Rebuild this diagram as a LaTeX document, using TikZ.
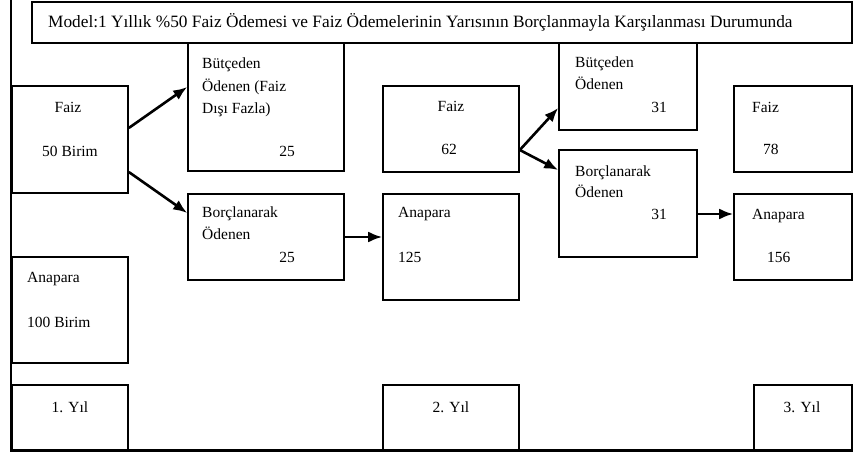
\documentclass[tikz,border=0pt]{standalone}
\usepackage{fontspec}
\setmainfont{Liberation Serif}
\usetikzlibrary{arrows.meta}
\tikzset{
    % kutular ve yazilar
    kutu/.style={draw,line width=1.6pt,inner sep=0pt},
    yazi/.style={inner sep=0pt,font=\fontsize{15.5}{18}\selectfont},
    baslik/.style={inner sep=0pt,font=\fontsize{17.3}{18}\selectfont},
    ok/.style={line width=2.6pt,-{Latex[length=14pt,width=11pt]}},
}
\begin{document}
\begin{tikzpicture}[x=1pt,y=-1pt]
    \useasboundingbox (0,0) rectangle (866,454);
    % cerceve
    \draw[line width=1.6pt] (11,0) -- (11,450);
    \draw[line width=3pt] (10,450) -- (853,450);
    \node[kutu,minimum width=820pt,minimum height=41pt] (baslik) at (442,22.5) {};
    % 1. yil
    \node[kutu,minimum width=116pt,minimum height=107pt] (faizA) at (70,139.5) {};
    \node[kutu,minimum width=156pt,minimum height=128pt] (butceA) at (266,107) {};
    \node[kutu,minimum width=156pt,minimum height=86pt] (borcA) at (266,237) {};
    \node[kutu,minimum width=116pt,minimum height=106pt] (anaA) at (70,310) {};
    \node[kutu,minimum width=116pt,minimum height=65pt] (yilA) at (70,417.5) {};
    % 2. yil
    \node[kutu,minimum width=136pt,minimum height=86pt] (faizB) at (451,129) {};
    \node[kutu,minimum width=136pt,minimum height=106pt] (anaB) at (451,247) {};
    \node[kutu,minimum width=136pt,minimum height=65pt] (yilB) at (451,417.5) {};
    \node[kutu,minimum width=138pt,minimum height=87pt] (butceB) at (628,86.5) {};
    \node[kutu,minimum width=138pt,minimum height=107pt] (borcB) at (628,203.5) {};
    % 3. yil
    \node[kutu,minimum width=118pt,minimum height=86pt] (faizC) at (793,129) {};
    \node[kutu,minimum width=118pt,minimum height=86pt] (anaC) at (793,237) {};
    \node[kutu,minimum width=98pt,minimum height=65pt] (yilC) at (803,417.5) {};
    % yazilar
    \node[baslik,anchor=base west] (tBaslik) at (48,28) {Model:1 Yıllık \%50 Faiz Ödemesi ve Faiz Ödemelerinin Yarısının Borçlanmayla Karşılanması Durumunda};
    \node[yazi,anchor=base] (tFaizA) at (68,113) {Faiz};
    \node[yazi,anchor=base] (tFaizA2) at (70,157) {50 Birim};
    \node[yazi,anchor=base west] (tButceA) at (202,69) {Bütçeden};
    \node[yazi,anchor=base west] (tButceA2) at (202,92) {Ödenen (Faiz};
    \node[yazi,anchor=base west] (tButceA3) at (202,114) {Dışı Fazla)};
    \node[yazi,anchor=base east] (tButceA4) at (295,157) {25};
    \node[yazi,anchor=base west] (tBorcA) at (202,218) {Borçlanarak};
    \node[yazi,anchor=base west] (tBorcA2) at (202,239) {Ödenen};
    \node[yazi,anchor=base east] (tBorcA3) at (295,262) {25};
    \node[yazi,anchor=base west] (tAnaA) at (27,282) {Anapara};
    \node[yazi,anchor=base west] (tAnaA2) at (27,327) {100 Birim};
    \node[yazi,anchor=base] (tYilA) at (70,412) {1. Yıl};
    \node[yazi,anchor=base] (tFaizB) at (451,112) {Faiz};
    \node[yazi,anchor=base] (tFaizB2) at (449,155) {62};
    \node[yazi,anchor=base west] (tAnaB) at (398,218) {Anapara};
    \node[yazi,anchor=base west] (tAnaB2) at (398,262) {125};
    \node[yazi,anchor=base] (tYilB) at (451,412) {2. Yıl};
    \node[yazi,anchor=base west] (tButceB) at (575,68) {Bütçeden};
    \node[yazi,anchor=base west] (tButceB2) at (575,90) {Ödenen};
    \node[yazi,anchor=base east] (tButceB3) at (667,113) {31};
    \node[yazi,anchor=base west] (tBorcB) at (575,177) {Borçlanarak};
    \node[yazi,anchor=base west] (tBorcB2) at (575,198) {Ödenen};
    \node[yazi,anchor=base east] (tBorcB3) at (667,219) {31};
    \node[yazi,anchor=base west] (tFaizC) at (752,113) {Faiz};
    \node[yazi,anchor=base west] (tFaizC2) at (763,155) {78};
    \node[yazi,anchor=base west] (tAnaC) at (752,219) {Anapara};
    \node[yazi,anchor=base west] (tAnaC2) at (767,262) {156};
    \node[yazi,anchor=base] (tYilC) at (802,412) {3. Yıl};
    % oklar
    \draw[ok] ([yshift=11.5pt]faizA.east) -- ([yshift=20pt]butceA.west);
    \draw[ok] ([yshift=-32.5pt]faizA.east) -- ([yshift=24pt]borcA.west);
    \draw[ok] (borcA.east) -- (borcA.east -| anaB.west);
    \draw[ok] ([yshift=-21pt]faizB.east) -- ([yshift=-21.5pt]butceB.west);
    \draw[ok] ([yshift=-21pt]faizB.east) -- ([yshift=33.5pt]borcB.west);
    \draw[ok] ([yshift=-10.5pt]borcB.east) -- ([yshift=-10.5pt]borcB.east -| anaC.west);
\end{tikzpicture}
\end{document}
